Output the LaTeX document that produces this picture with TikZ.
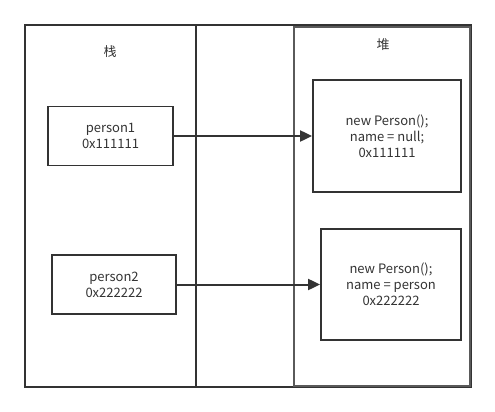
\documentclass[tikz,border=0pt]{standalone}
\usepackage{fontspec}
\setmainfont{Noto Sans CJK SC}
\usepackage{tikz}
\usetikzlibrary{positioning,arrows.meta}
\definecolor{linegray}{RGB}{51,51,51}
\definecolor{heapgray}{RGB}{90,90,90}
\tikzset{
  frame/.style={draw=linegray, line width=1.8pt},
  cell/.style={draw=linegray, line width=1.8pt, align=center, inner sep=0pt, font=\fontsize{13}{16}\selectfont, text=linegray},
  lbl/.style={font=\fontsize{13}{16}\selectfont, text=linegray},
  arr/.style={-{Triangle[length=12pt, width=11pt]}, line width=2pt, draw=linegray},
}
\begin{document}
\begin{tikzpicture}[x=1pt, y=-1pt]
  \useasboundingbox (0,0) rectangle (495,412);
  % frames
  \draw[frame] (25,25) rectangle (471,387);
  \draw[frame] (196,25) -- (196,387);
  \draw[frame, draw=heapgray] (294,27) rectangle (470,386);
  \node[lbl] (stk) at (110,52) {栈};
  \node[lbl] (hp) at (383,45) {堆};
  % stack cells
  \node[cell, minimum width=125pt, minimum height=59pt] (p1) at (110.5,136) {person1\\0x111111};
  \node[cell, minimum width=124pt, minimum height=59pt] (p2) at (114,284.5) {person2\\0x222222};
  % heap objects
  \node[cell, minimum width=148pt, minimum height=112pt] (o1) at (387,136) {new Person();\\name = null;\\0x111111};
  \node[cell, minimum width=140pt, minimum height=111pt] (o2) at (391,284.5) {new Person();\\name = person\\0x222222};
  \foreach \x/\y in {p1/o1,p2/o2}{\draw[arr] (\x)--(\y);}
\end{tikzpicture}
\end{document}
